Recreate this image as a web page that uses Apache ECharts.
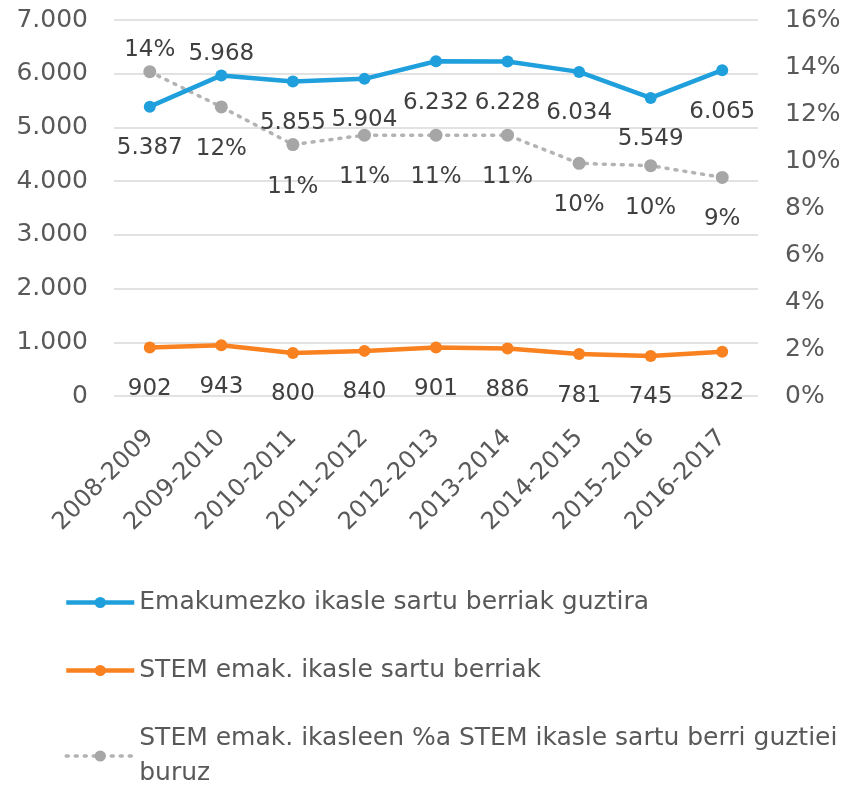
<!DOCTYPE html>
<html>
<head>
<meta charset="utf-8">
<script src="https://cdn.jsdelivr.net/npm/echarts@6/dist/echarts.min.js"></script>
<style>
  html, body { margin: 0; padding: 0; background: #fff; }
  #chart { width: 843px; height: 788px; }
</style>
</head>
<body>
<div id="chart"></div>
<script>
// ikasturteak
const years = ['2008-2009', '2009-2010', '2010-2011', '2011-2012', '2012-2013',
  '2013-2014', '2014-2015', '2015-2016', '2016-2017']
const totalWomen = [5387, 5968, 5855, 5904, 6232, 6228, 6034, 5549, 6065]
const stemWomen = [902, 943, 800, 840, 901, 886, 781, 745, 822]
const stemShare = [13.8, 12.3, 10.7, 11.1, 11.1, 11.1, 9.9, 9.8, 9.3]
const leftTicks = [0, 1000, 2000, 3000, 4000, 5000, 6000, 7000]
const rightTicks = [0, 2, 4, 6, 8, 10, 12, 14, 16]
const names = [
  'Emakumezko ikasle sartu berriak guztira',
  'STEM emak. ikasle sartu berriak',
  'STEM emak. ikasleen %a STEM ikasle sartu berri guztiei buruz'
]

const FONT = 'DejaVu Sans'
const fmtThousand = v => String(v).replace(/\B(?=(\d{3})+(?!\d))/g, '.')

// labels above for a few points, below for the rest
const withPos = (arr, aboveIdx) => arr.map((v, i) => ({
  value: v,
  label: aboveIdx.includes(i) ? { position: 'top', distance: 4 } : { position: 'bottom', distance: 24 }
}))

const myChart = echarts.init(document.getElementById('chart'))
const labelStyle = { show: true, fontFamily: FONT, fontSize: 23, color: '#404040' }

myChart.setOption({
  animation: false,
  grid: { left: 114, right: 85, top: 20, bottom: 392, containLabel: false, outerBoundsMode: 'none' },
  legend: {
    orient: 'vertical',
    left: 64,
    top: 585,
    height: 240,
    padding: 0,
    itemWidth: 68,
    itemHeight: 14,
    itemGap: 33,
    data: [
      { name: names[0], lineStyle: { width: 4.5 } },
      { name: names[1], lineStyle: { width: 4.5 } },
      { name: names[2], lineStyle: { width: 3.5, type: [2, 7], cap: 'round' } }
    ],
    // last legend entry wraps before "buruz"
    formatter: name => name.replace(' buruz', '\nburuz'),
    textStyle: { fontFamily: FONT, fontSize: 25, color: '#595959', lineHeight: 35 }
  },
  xAxis: {
    type: 'category',
    data: years,
    axisLine: { show: false },
    axisTick: { show: false },
    axisLabel: { rotate: 45, fontFamily: FONT, fontSize: 24, color: '#595959', margin: 38 }
  },
  yAxis: [
    {
      type: 'value', min: leftTicks[0], max: leftTicks[leftTicks.length - 1], interval: 1000,
      axisLine: { show: false }, axisTick: { show: false },
      splitLine: { lineStyle: { color: '#d9d9d9', width: 1.5 } },
      axisLabel: { fontFamily: FONT, fontSize: 25, color: '#595959', margin: 26, formatter: fmtThousand }
    },
    {
      type: 'value', min: rightTicks[0], max: rightTicks[rightTicks.length - 1], interval: 2,
      axisLine: { show: false }, axisTick: { show: false },
      splitLine: { show: false },
      axisLabel: { fontFamily: FONT, fontSize: 25, color: '#595959', margin: 27, formatter: v => v + '%' }
    }
  ],
  series: [
    {
      name: names[2],
      type: 'line',
      yAxisIndex: 1,
      data: withPos(stemShare, [0]),
      symbol: 'circle', symbolSize: 13,
      itemStyle: { color: '#a6a6a6' },
      lineStyle: { color: '#b3b3b3', width: 3.5, type: [2, 7], cap: 'round' },
      label: Object.assign({}, labelStyle, { formatter: p => Math.round(p.value) + '%' }),
      z: 2
    },
    {
      name: names[0],
      type: 'line',
      data: withPos(totalWomen, [1]),
      symbol: 'circle', symbolSize: 12,
      itemStyle: { color: '#1f9fdc' },
      lineStyle: { color: '#1f9fdc', width: 4.5 },
      label: Object.assign({}, labelStyle, { formatter: p => fmtThousand(p.value) }),
      z: 3
    },
    {
      name: names[1],
      type: 'line',
      data: withPos(stemWomen, []),
      symbol: 'circle', symbolSize: 12,
      itemStyle: { color: '#f9811f' },
      lineStyle: { color: '#f9811f', width: 4.5 },
      label: Object.assign({}, labelStyle, { formatter: p => String(p.value) }),
      z: 3
    }
  ]
})
</script>
</body>
</html>
